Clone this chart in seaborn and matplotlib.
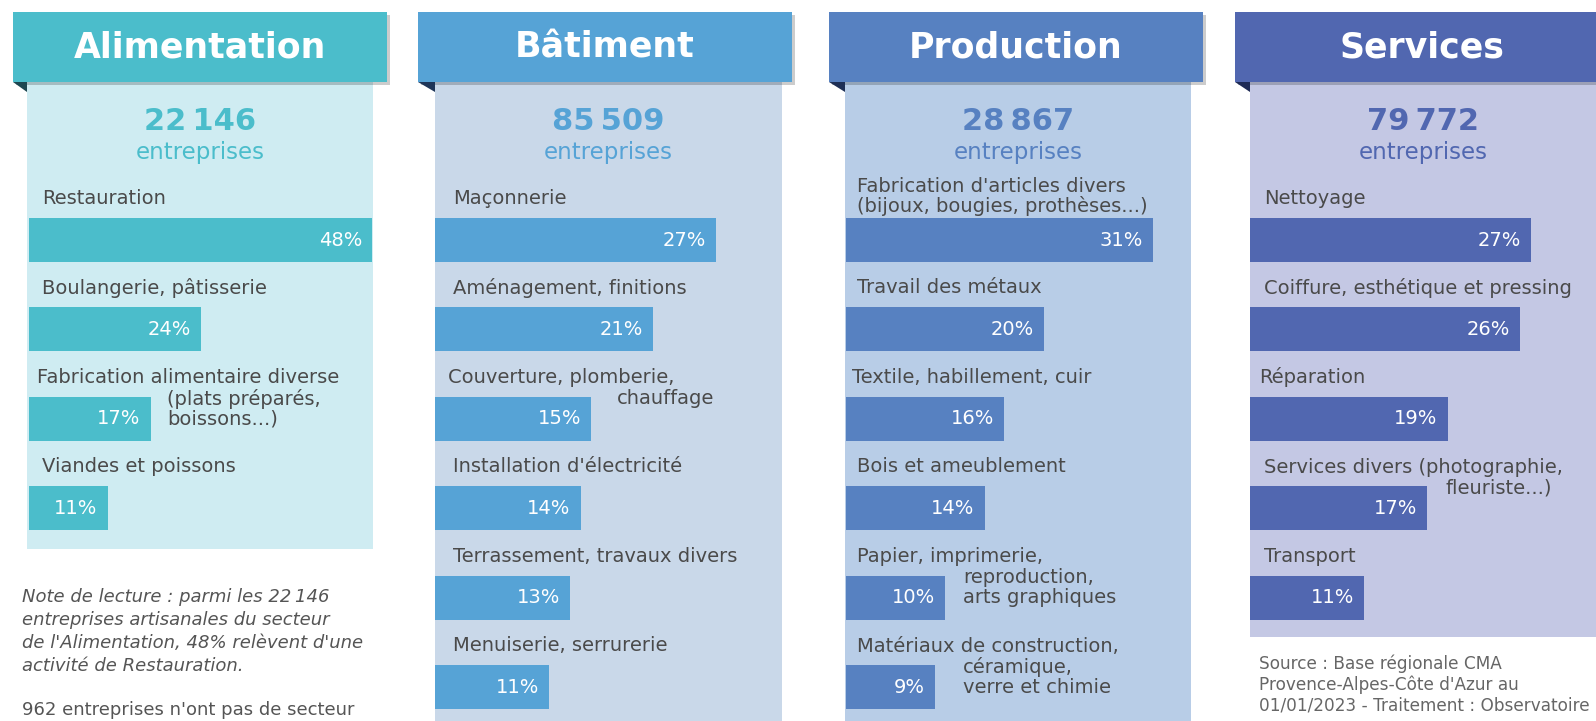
import matplotlib
matplotlib.use("Agg")
import matplotlib.pyplot as plt
import seaborn as sns
import pandas as pd
from matplotlib.patches import Rectangle, Polygon

sns.set_theme(style="white")
plt.rcParams['font.family'] = ['DejaVu Sans']

# ---------------- data ----------------
sectors = ["Alimentation", "Bâtiment", "Production", "Services"]
totals = ["22\u202f146", "85\u202f509", "28\u202f867", "79\u202f772"]

alim_labels = ["Restauration", "Boulangerie, pâtisserie",
               "Fabrication alimentaire diverse\n(plats préparés,\nboissons...)",
               "Viandes et poissons"]
alim_values = [48, 24, 17, 11]

bat_labels = ["Maçonnerie", "Aménagement, finitions",
              "Couverture, plomberie,\nchauffage", "Installation d'électricité",
              "Terrassement, travaux divers", "Menuiserie, serrurerie"]
bat_values = [27, 21, 15, 14, 13, 11]

prod_labels = ["Fabrication d'articles divers\n(bijoux, bougies, prothèses...)",
               "Travail des métaux", "Textile, habillement, cuir",
               "Bois et ameublement",
               "Papier, imprimerie,\nreproduction,\narts graphiques",
               "Matériaux de construction,\ncéramique,\nverre et chimie"]
prod_values = [31, 20, 16, 14, 10, 9]

serv_labels = ["Nettoyage", "Coiffure, esthétique et pressing", "Réparation",
               "Services divers (photographie,\nfleuriste...)", "Transport"]
serv_values = [27, 26, 19, 17, 11]

note_lines = ["Note de lecture : parmi les 22\u202f146",
              "entreprises artisanales du secteur",
              "de l'Alimentation, 48% relèvent d'une",
              "activité de Restauration."]
note2_text = "962 entreprises n'ont pas de secteur"
source_lines = ["Source : Base régionale CMA",
                "Provence-Alpes-Côte d'Azur au",
                "01/01/2023 - Traitement : Observatoire"]

# ---------------- style / layout ----------------
W, H = 1596, 721
header_cols = ["#4BBDCB", "#56A3D6", "#5781C1", "#5167B0"]
bg_cols = ["#CFECF2", "#C9D8E9", "#B8CDE7", "#C4C8E4"]
fold_cols = ["#1D4650", "#1E3558", "#1E2F55", "#1E2A55"]
label_col = "#4A4A4A"

header_x = [13, 418, 829, 1235]
header_w = 374
header_y = [12, 12, 12, 12]
header_h = 70
panel_x = [27, 435, 845, 1250]
panel_w = [346, 347, 346, 346]
panel_bottom = [549, 721, 721, 637]
bar_start = [29, 435, 846, 1250]
px_per_pct = [7.15, 10.4, 9.9, 10.4]
label_dx = [13, 18, 11, 14]
side_wrap_dx = {(0, 2): 138, (1, 2): 182, (2, 4): 117, (2, 5): 117, (3, 3): 196}
row0_y = 240
row_step = 89.4
bar_h_px = 44
FS_LABEL = 14
FS_PCT = 14

all_labels = [alim_labels, bat_labels, prod_labels, serv_labels]
all_values = [alim_values, bat_values, prod_values, serv_values]

fig = plt.figure(figsize=(W / 100, H / 100), dpi=100)
fig.patch.set_facecolor("white")

# background axes in pixel coordinates for decoration
bg = fig.add_axes([0, 0, 1, 1])
bg.set_xlim(0, W)
bg.set_ylim(H, 0)
bg.set_axis_off()

for p in range(4):
    bg.add_patch(Rectangle((panel_x[p], header_y[p] + header_h), panel_w[p],
                           panel_bottom[p] - header_y[p] - header_h,
                           color=bg_cols[p], lw=0, zorder=1))
    bg.add_patch(Rectangle((header_x[p] + 3, header_y[p] + 3), header_w, header_h,
                           color="#000000", alpha=0.2, lw=0, zorder=2))
    bg.add_patch(Rectangle((header_x[p], header_y[p]), header_w, header_h,
                           color=header_cols[p], lw=0, zorder=3))
    y0 = header_y[p] + header_h
    bg.add_patch(Polygon([(header_x[p], y0), (panel_x[p], y0), (panel_x[p], y0 + 10)],
                         closed=True, color=fold_cols[p], lw=0, zorder=3))
    cx = panel_x[p] + panel_w[p] / 2
    bg.text(header_x[p] + header_w / 2, header_y[p] + header_h / 2 + 1, sectors[p],
            color="white", fontsize=25, fontweight="bold", ha="center", va="center",
            zorder=4)
    bg.text(cx, 121, totals[p], color=header_cols[p], fontsize=22,
            fontweight="bold", ha="center", va="center", zorder=4)
    bg.text(cx, 153, "entreprises", color=header_cols[p], fontsize=16.5,
            ha="center", va="center", zorder=4)

for j, ln in enumerate(note_lines):
    bg.text(22, 597 + 23 * j, ln, fontsize=13, style="italic", color="#555555",
            ha="left", va="center")
bg.text(22, 710, note2_text, fontsize=13, color="#555555", ha="left", va="center")
for j, ln in enumerate(source_lines):
    bg.text(1259, 664 + 21 * j, ln, fontsize=12.2, color="#666666", ha="left",
            va="center")

# bar axes
ylim_top = (0 - row0_y) / row_step
ylim_bot = (H - row0_y) / row_step
for p in range(4):
    span = panel_w[p] + panel_x[p] - bar_start[p]
    ax = fig.add_axes([bar_start[p] / W, 0, span / W, 1])
    df = pd.DataFrame({"cat": all_labels[p], "pct": all_values[p]})
    sns.barplot(data=df, x="pct", y="cat", orient="h", color=header_cols[p],
                saturation=1, width=bar_h_px / row_step, linewidth=0, ax=ax)
    ax.set_xlim(0, span / px_per_pct[p])
    ax.set_ylim(ylim_bot, ylim_top)
    ax.set_axis_off()
    ax.patch.set_alpha(0)
    k = px_per_pct[p]
    for i, (lab, v) in enumerate(zip(all_labels[p], all_values[p])):
        ax.text(v - 10 / k, i, f"{v}%", color="white", fontsize=FS_PCT,
                ha="right", va="center")
        lines = lab.split("\n")
        shift = -5 if i == 2 else 0
        lx = (label_dx[p] + shift) / k
        if (p, i) in side_wrap_dx:
            ax.text(lx, i - 41 / row_step, lines[0], color=label_col, fontsize=FS_LABEL,
                    ha="left", va="center", clip_on=False)
            sx = side_wrap_dx[(p, i)] / k
            for j, ln in enumerate(lines[1:]):
                ax.text(sx, i + (-20 + 20 * j) / row_step, ln, color=label_col,
                        fontsize=FS_LABEL, ha="left", va="center", clip_on=False)
        else:
            n = len(lines)
            for j, ln in enumerate(lines):
                off = -41.5 if n == 1 else (-34 - 20 * (n - 1 - j))
                ax.text(lx, i + off / row_step, ln, color=label_col, fontsize=FS_LABEL,
                        ha="left", va="center", clip_on=False)

fig.savefig("out.png", dpi=100, facecolor="white")
